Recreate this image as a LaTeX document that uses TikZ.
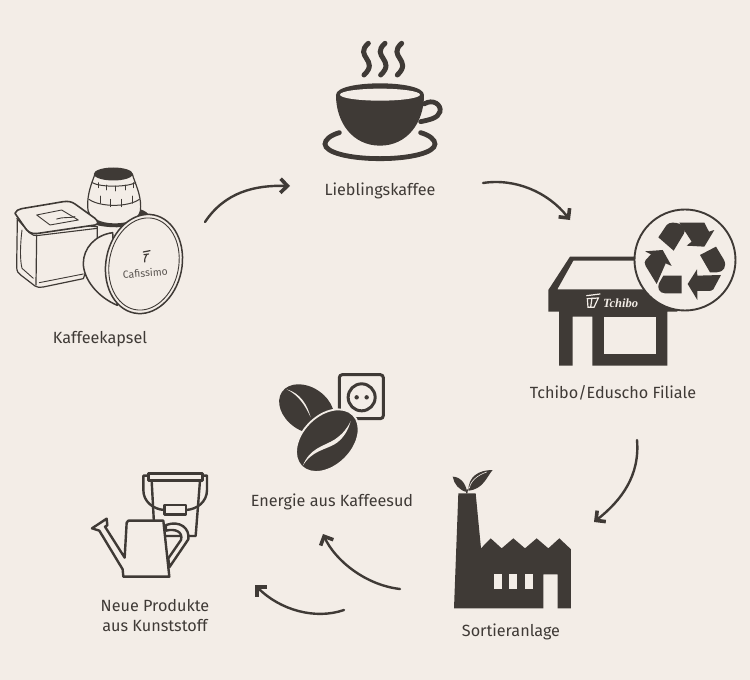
\documentclass[tikz,border=0pt]{standalone}
\usepackage{fontspec}
\setmainfont{Fira Sans}
\usetikzlibrary{arrows.meta}
\definecolor{papier}{HTML}{F3EDE7}
\definecolor{dunkel}{HTML}{3F3A36}
\tikzset{
    label text/.style={text=dunkel, font=\fontsize{16.2}{19.5}\selectfont, align=center},
    kreislauf/.style={draw=dunkel, line width=2.4pt, line cap=round,
        -{Straight Barb[length=7pt, width=14pt, line width=3.6pt]}},
    duenn/.style={draw=dunkel, line width=1.2pt, line join=round, line cap=round},
    kanne/.style={draw=dunkel, line width=2.4pt, line join=round, fill=papier},
    form/.style={fill=dunkel, draw=none},
}
\begin{document}
\begin{tikzpicture}[x=1pt, y=-1pt]
        \useasboundingbox (0,0) rectangle (750,680);
        \fill [papier] (0,0) rectangle (750,680);

        % tasse
        \begin{scope}[shift={(300,30)}, x=0.3333pt, y=-0.3333pt]
            \foreach \dx in {0,50,100}
                \draw [dunkel, line width=5pt, line cap=round, xshift=\dx*0.3333pt]
                    (205,40) .. controls (160,80) and (240,90) .. (192,135);
            \fill [dunkel] (108,195) .. controls (108,170) and (180,160) .. (240,160)
                .. controls (300,160) and (372,170) .. (372,195)
                .. controls (372,280) and (320,347) .. (240,347)
                .. controls (160,347) and (108,280) .. (108,195) -- cycle;
            \fill [papier] (240,194) ellipse (40pt and 6pt);
            \draw [dunkel, line width=4.8pt, line cap=round]
                (372,222) .. controls (400,205) and (425,225) .. (420,245)
                .. controls (415,265) and (385,270) .. (362,275);
            \draw [dunkel, line width=4.8pt, line cap=round]
                (118,308) .. controls (90,316) and (75,330) .. (75,342)
                .. controls (75,368) and (150,386) .. (240,386)
                .. controls (330,386) and (405,368) .. (405,342)
                .. controls (405,330) and (390,316) .. (362,308);
        \end{scope}
        \node [label text] (lieblingskaffee) at (380,190.5) {Lieblingskaffee};

        % kapseln
        \begin{scope}[shift={(0,150)}, x=0.3333pt, y=-0.3333pt]
            \draw [duenn, fill=dunkel] (350,200) ellipse (32pt and 10pt);
            \draw [duenn, fill=papier] (285,72) .. controls (275,100) and (262,130) .. (263,170)
                .. controls (262,205) and (300,222) .. (345,222)
                .. controls (390,222) and (425,205) .. (422,170)
                .. controls (422,130) and (405,100) .. (397,72) -- cycle;
            \fill [dunkel] (340,72) ellipse (19.5pt and 6.5pt);
            \draw [duenn, line width=1pt] (277,98) .. controls (300,112) and (380,112) .. (407,98);
            \draw [duenn, line width=1pt] (267,148) .. controls (300,172) and (385,172) .. (418,148);
            \foreach \tx/\ty in {295/98,318/105,347/108,375/105,400/98}
                \draw [duenn, line width=0.7pt] (\tx,\ty) -- ++(0,15);
            \foreach \tx/\ty in {302/138,332/148,365/148,398/138}
                \draw [duenn, line width=0.7pt] (\tx,\ty) -- ++(0,22);

            \draw [duenn, fill=papier] (52,210) -- (50,350) .. controls (50,365) and (55,370) .. (62,375)
                -- (105,408) .. controls (112,413) and (120,413) .. (130,411) -- (250,386)
                -- (292,270) -- (292,230) -- cycle;
            \draw [duenn, line width=0.9pt] (66,240) .. controls (60,290) and (60,330) .. (66,355) -- (100,385);
            \draw [duenn] (110,255) -- (108,405);
            \draw [duenn, line width=0.9pt] (118,398) -- (250,372);
            \draw [duenn, line width=1.6pt, fill=papier] (45,190) .. controls (48,182) and (55,178) .. (65,176)
                -- (190,155) .. controls (205,153) and (215,155) .. (225,162)
                -- (285,205) .. controls (295,215) and (297,222) .. (285,225)
                -- (115,250) .. controls (100,252) and (90,250) .. (80,240) -- cycle;
            \draw [duenn, line width=1.1pt] (50,205) -- (88,248) .. controls (95,256) and (105,258) .. (118,256) -- (292,235);
            \draw [duenn, line width=0.9pt] (110,195) -- (185,180) -- (235,210) -- (150,225) -- cycle;
            \draw [duenn, line width=0.9pt] (170,207) .. controls (190,200) and (210,205) .. (225,200);

            \draw [duenn, line width=1.5pt, fill=papier] (338,248) .. controls (285,255) and (250,295) .. (250,340)
                .. controls (250,385) and (290,440) .. (352,466) -- cycle;
            \draw [duenn, line width=1.5pt, fill=papier, rotate around={-11.5:(432,342)}] (432,342) ellipse (38pt and 50pt);
            \draw [duenn, line width=0.9pt, rotate around={-11.5:(432,342)}] (432,342) ellipse (34.7pt and 46.5pt);
            \draw [dunkel, line width=1.2pt, line cap=round] (430,306) -- (450,302) (432,314) -- (446,312)
                (440,314) .. controls (436,322) and (432,330) .. (434,336);
            \node [text=dunkel!85!papier, font=\fontsize{10.4}{12}\selectfont, rotate=4] (cafissimo) at (436,369) {Cafissimo};
        \end{scope}
        \node [label text] (kaffeekapsel) at (100,339) {Kaffeekapsel};

        % filiale
        \begin{scope}[shift={(530,200)}, x=0.3333pt, y=-0.3333pt]
            \fill [form] (120,170) -- (320,170) -- (320,182) -- (130,182) -- (82,268) -- (445,268) -- (442,335) -- (412,335)
                -- (412,497) -- (187,497) -- (187,350) -- (128,350) -- (128,497) -- (87,497) -- (87,335) -- (55,335) -- (55,270) -- cycle;
            \fill [papier] (222,350) rectangle (378,462);
            \draw [draw=dunkel, fill=papier, line width=1.9pt] (465,180) circle (50.5pt);
            \draw [papier, line width=1.2pt, line cap=round] (170,287) -- (210,282)
                (172,296) -- (205,294) -- (192,322) -- (174,322) -- cycle (186,294) -- (182,322);
            \node [text=papier, font=\fontsize{12.5}{14}\bfseries\itshape\fontspec{Liberation Serif}] (tchibo) at (272,310) {Tchibo};
        \end{scope}
        \begin{scope}[shift={(635,210)}, x=0.3333pt, y=-0.3333pt]
            \fill [form] (70,82) -- (95,45) .. controls (103,36) and (120,36) .. (135,42) .. controls (150,50) and (152,62) .. (146,72) -- (116,122) -- cycle;
            \fill [form] (133,38) -- (208,38) -- (222,65) -- (238,60) -- (208,110) -- (155,107) -- (170,95) -- cycle;
            \fill [form] (195,135) -- (243,110) -- (266,148) .. controls (278,170) and (265,187) .. (245,187) -- (225,187) -- cycle;
            \fill [form] (258,195) -- (235,238) .. controls (232,242) and (225,243) .. (220,243) -- (187,243) -- (187,270) -- (158,222) -- (186,178) -- (187,197) -- cycle;
            \fill [form] (85,197) -- (140,197) -- (140,250) -- (90,250) .. controls (72,250) and (66,232) .. (72,220) -- cycle;
            \fill [form] (30,124) -- (83,120) -- (110,168) -- (92,160) -- (65,222) -- (32,168) .. controls (28,160) and (28,155) .. (32,150) -- (48,133) -- cycle;
        \end{scope}
        \node [label text] (filiale) at (613,392.5) {Tchibo/Eduscho Filiale};

        % fabrik
        \begin{scope}[shift={(440,460)}, x=0.3333pt, y=-0.3333pt]
            \fill [form] (42,445) -- (55,100) -- (107,100) -- (123,265) -- (152,235) -- (185,265) -- (220,235) -- (255,265)
                -- (290,235) -- (325,265) -- (358,235) -- (393,268) -- (393,445) -- (353,445) -- (353,343) -- (310,343) -- (310,445) -- cycle;
            \foreach \wx in {162,208,256}
                \fill [papier] (\wx,343) rectangle ++(24,44);
            \fill [form] (81,96) .. controls (78,70) and (60,50) .. (38,50) .. controls (42,72) and (58,92) .. (81,96) -- cycle;
            \fill [form] (85,92) .. controls (85,50) and (115,30) .. (158,30) .. controls (140,50) and (130,88) .. (85,92) -- cycle;
            \draw [dunkel, line width=1.4pt] (80,100) -- (82,88);
            \draw [papier, line width=0.6pt] (88,85) .. controls (92,62) and (112,46) .. (140,36);
        \end{scope}
        \node [label text] (sortieranlage) at (511,632) {Sortieranlage};

        % bohnen und steckdose
        \begin{scope}[shift={(260,360)}, x=0.3333pt, y=-0.3333pt]
            \draw [dunkel, line width=3pt, rounded corners=3pt] (238,44) rectangle (370,176);
            \draw [dunkel, line width=3pt] (305,112) circle (13.5pt);
            \fill [dunkel] (290,112) circle (2.2pt) (320,112) circle (2.2pt);
            \fill [dunkel, rotate around={-35:(140,147)}] (140,147) ellipse (30pt and 21.7pt);
            \fill [papier] (80,88) .. controls (122,100) and (142,135) .. (152,172) .. controls (135,135) and (115,105) .. (80,88) -- cycle;
            \draw [fill=dunkel, draw=papier, line width=1.8pt, rotate around={45:(202,242)}] (202,242) ellipse (36.5pt and 25pt);
            \fill [papier] (128,318) .. controls (150,262) and (195,258) .. (225,238) .. controls (248,222) and (262,205) .. (272,183)
                .. controls (265,212) and (248,238) .. (225,252) .. controls (195,270) and (155,272) .. (128,318) -- cycle;
        \end{scope}
        \node [label text] (energie) at (332,502) {Energie aus Kaffeesud};

        % eimer und giesskanne
        \begin{scope}[shift={(80,460)}, x=0.3333pt, y=-0.3333pt]
            \draw [kanne] (215,62) -- (224,228) -- (347,228) -- (360,62) -- cycle;
            \draw [kanne, fill=none] (205,47) -- (190,47) -- (190,90) .. controls (190,125) and (220,148) .. (253,150);
            \draw [kanne, fill=none] (367,47) -- (381,47) -- (381,90) .. controls (381,125) and (352,148) .. (318,150);
            \draw [kanne] (205,40) rectangle (367,62);
            \draw [kanne] (253,135) rectangle (318,163);
            \draw [kanne] (258,195) .. controls (300,180) and (330,205) .. (325,238) -- (268,322) -- (265,295)
                -- (303,240) .. controls (310,215) and (285,205) .. (258,212) -- cycle;
            \draw [kanne] (145,182) -- (250,182) -- (268,350) -- (130,350) -- (128,328) -- (58,212) -- (36,205) -- (80,176) -- (82,196) -- (75,200) -- (134,293) -- (140,188) -- cycle;
        \end{scope}
        \node [label text] (produkte) at (155,615.5) {Neue Produkte\\aus Kunststoff};

        % pfeile
        \coordinate (kapsel end) at (205,222);
        \coordinate (kaffee start) at (290,186);
        \coordinate (kaffee end) at (483,183);
        \coordinate (filiale start) at (570,220);
        \coordinate (filiale end) at (637,440);
        \coordinate (anlage start) at (594,522);
        \coordinate (anlage end a) at (400,589);
        \coordinate (energie start) at (323,534);
        \coordinate (anlage end b) at (344,610);
        \coordinate (produkte start) at (255,585);
        \draw [kreislauf] (kapsel end) .. controls (225,192) and (255,185) .. (kaffee start);
        \draw [kreislauf] (kaffee end) .. controls (515,178) and (548,192) .. (filiale start);
        \draw [kreislauf] (filiale end) .. controls (640,475) and (622,500) .. (anlage start);
        \draw [kreislauf] (anlage end a) .. controls (365,585) and (335,560) .. (energie start);
        \draw [kreislauf] (anlage end b) .. controls (315,620) and (280,610) .. (produkte start);
\end{tikzpicture}
\end{document}
